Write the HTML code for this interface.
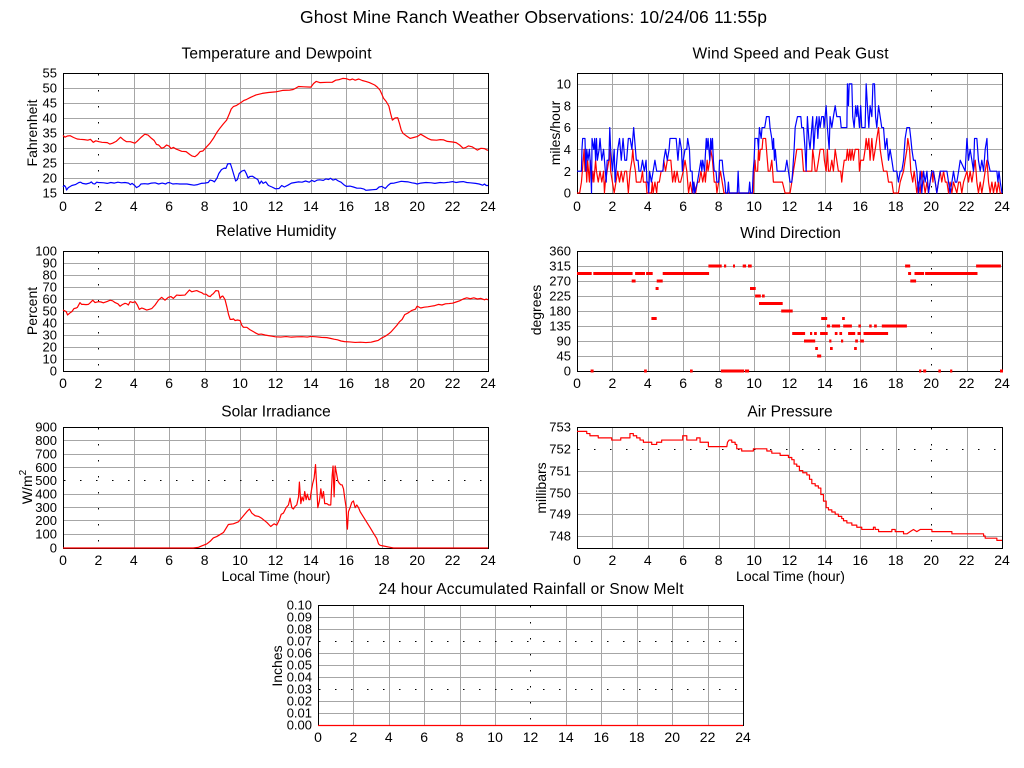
<!DOCTYPE html>
<html><head><meta charset="utf-8"><style>
html,body{margin:0;padding:0;background:#fff;}
svg{display:block;font-family:"Liberation Sans",Arial,sans-serif;}
.g{stroke:#a6a6a6;stroke-width:1;fill:none;shape-rendering:crispEdges;}
.d{stroke:#000;stroke-width:1;stroke-dasharray:1.5 14.5;fill:none;}
.f{stroke:#000;stroke-width:1;fill:none;shape-rendering:crispEdges;}
.r{stroke:#ff0000;fill:none;stroke-width:1.2;stroke-linejoin:round;}
.b{stroke:#0000ff;fill:none;stroke-width:1.2;stroke-linejoin:round;}
.yl{font-size:13px;text-anchor:end;}
.xl{font-size:14px;text-anchor:middle;}
.t{font-size:15.5px;text-anchor:middle;}
.al{font-size:14px;text-anchor:middle;}
</style></head><body>
<svg width="1024" height="768" viewBox="0 0 1024 768" xmlns="http://www.w3.org/2000/svg">
<rect width="1024" height="768" fill="#fff"/>
<text x="533.5" y="23" font-size="17.5" text-anchor="middle" textLength="467" lengthAdjust="spacing">Ghost Mine Ranch Weather Observations: 10/24/06 11:55p</text>

<!-- ===== Panel 1: Temperature ===== -->
<text class="t" x="276.5" y="58.5" textLength="190" lengthAdjust="spacing">Temperature and Dewpoint</text>
<path class="g" d="M134.5 73V193M169.5 73V193M205.5 73V193M240.5 73V193M276.5 73V193M311.5 73V193M346.5 73V193M382.5 73V193M417.5 73V193M453.5 73V193M63 88.5H488M63 103.5H488M63 118.5H488M63 133.5H488M63 148.5H488M63 163.5H488M63 178.5H488"/>
<path class="d" d="M98.5 74V193"/>
<rect class="f" x="63.5" y="73.5" width="425" height="120"/>
<g class="yl"><text x="57" y="77.5">55</text><text x="57" y="92.5">50</text><text x="57" y="107.5">45</text><text x="57" y="122.5">40</text><text x="57" y="137.5">35</text><text x="57" y="152.5">30</text><text x="57" y="167.5">25</text><text x="57" y="182.5">20</text><text x="57" y="197.5">15</text></g>
<g class="xl"><text x="63" y="211">0</text><text x="98.4" y="211">2</text><text x="133.8" y="211">4</text><text x="169.2" y="211">6</text><text x="204.7" y="211">8</text><text x="240.1" y="211">10</text><text x="275.5" y="211">12</text><text x="310.9" y="211">14</text><text x="346.3" y="211">16</text><text x="381.7" y="211">18</text><text x="417.2" y="211">20</text><text x="452.6" y="211">22</text><text x="488" y="211">24</text></g>
<text class="al" transform="translate(37,133) rotate(-90)">Fahrenheit</text>
<g transform="translate(63,238) scale(17.7083,-3)">
<polyline class="r" vector-effect="non-scaling-stroke" points="0,34.2 0.11,33.6 0.25,34 0.4,34.1 0.6,33.5 0.8,33 0.96,32.9 1.2,32.8 1.4,32.6 1.55,32.9 1.71,31.9 1.85,32.4 2.03,32.1 2.2,31.9 2.5,31.8 2.65,31.3 2.8,31.6 3.0,32.2 3.25,33.6 3.4,32.8 3.59,32.1 3.8,32.1 4.06,31.6 4.2,32.3 4.4,33.5 4.62,34.6 4.8,34.3 5.0,33.2 5.15,32.5 5.28,31.2 5.4,31 5.57,29.9 5.7,30.2 5.85,31 6.0,30.6 6.1,29.8 6.23,30.2 6.4,29.6 6.5,29.4 6.7,28.9 6.95,28.8 7.17,27.8 7.3,27.3 7.45,27.1 7.6,27.8 7.74,28.8 7.9,29 8.11,30.4 8.3,31.6 8.49,33.2 8.7,35.3 8.86,36.6 9.05,38 9.24,39.3 9.4,41.5 9.5,43 9.62,43.8 9.8,44.2 9.99,44.9 10.2,45.8 10.37,46.2 10.6,46.9 10.9,47.7 11.25,48.2 11.6,48.5 12.0,48.7 12.4,49.2 12.8,49.3 13.0,49.5 13.1,49.8 13.3,50.5 13.6,50.4 14.0,50.3 14.15,51.5 14.3,52.2 14.5,51.8 14.9,51.9 15.2,51.9 15.4,52.6 15.6,52.8 15.8,53.2 16.0,53.1 16.2,52.7 16.35,53 16.5,52.6 16.7,53 16.9,52.5 17.1,52.2 17.3,51.8 17.6,51 17.75,50.3 17.9,49.3 18.0,48 18.1,46.6 18.25,45.5 18.4,44 18.5,41.5 18.6,39.3 18.75,40 18.9,40.1 19.0,38.2 19.1,36 19.2,34.9 19.4,34 19.6,33.2 19.8,33.5 20.0,33.8 20.2,34.6 20.4,33.9 20.6,33.2 20.8,32.7 21.1,32.6 21.3,32.8 21.5,32.7 21.7,32.2 22.0,32 22.2,31.8 22.4,31 22.6,29.9 22.75,30.2 22.9,30.7 23.1,30.4 23.4,29.3 23.6,29.9 23.8,29.8 23.95,29.3 24,29.3"/>
<polyline class="b" vector-effect="non-scaling-stroke" points="0,17 0.08,17.5 0.15,17 0.2,16 0.3,16.8 0.5,17.5 0.7,17.8 0.9,18.5 1.0,18.6 1.1,18.2 1.3,18 1.5,18.3 1.6,18.7 1.7,18.1 1.8,18 1.9,18.6 2.0,18.5 2.3,18.4 2.5,18.2 2.7,18.5 2.9,18.3 3.1,18.6 3.3,18.4 3.5,18.5 3.7,18.3 3.8,17.8 3.9,18.2 4.05,17.5 4.15,16.8 4.3,17.3 4.4,18 4.6,18.1 4.8,18 5.0,18.3 5.2,18.4 5.4,18 5.6,18.3 5.8,18 5.9,18.4 6.0,18.5 6.2,18 6.4,18.1 6.6,18 7.0,18 7.2,17.8 7.4,17.6 7.6,17.8 7.8,18.2 8.0,18.3 8.2,18.5 8.3,19.3 8.45,19.1 8.55,18.7 8.7,20 8.8,21.5 8.95,22.8 9.1,23.3 9.2,23.2 9.3,24.7 9.45,24.8 9.55,23 9.65,21 9.75,19 9.85,19.5 9.95,21.5 10.1,22.3 10.25,22.6 10.35,21.5 10.45,20 10.55,20.5 10.7,20.6 10.85,20 11.0,19.5 11.1,18 11.2,19 11.3,18.2 11.45,18.7 11.6,17.5 11.8,17 12.0,16.4 12.2,16.5 12.35,17.5 12.5,17 12.7,17.6 12.9,18.3 13.1,18.5 13.3,18.7 13.5,18.6 13.7,19 13.9,18.6 14.05,19.2 14.2,18.8 14.35,19.3 14.5,19.4 14.7,19.2 14.85,19.7 15.0,19.5 15.1,19.9 15.25,19.3 15.4,19.6 15.55,19 15.7,18.6 15.85,17.8 16.0,17.2 16.2,17.3 16.4,17 16.6,16.6 16.8,16.6 17.0,16.3 17.1,15.9 17.3,16 17.5,16.1 17.7,16.2 17.85,17 18.0,17.2 18.2,16.5 18.35,17.5 18.5,18.2 18.7,18.3 18.9,18.6 19.1,18.9 19.3,18.8 19.5,18.7 19.7,18.4 19.9,18.2 20.0,18 20.2,18.3 20.5,18.5 20.8,18.4 21.0,18.2 21.3,18.5 21.5,18.4 21.8,18.6 22.0,18.8 22.2,18.5 22.4,18.7 22.6,18.8 22.8,18.5 23.0,18.4 23.3,18.2 23.5,18 23.7,17.6 23.8,18 23.9,17.5 24,17.5"/>
</g>

<!-- ===== Panel 2: Wind Speed ===== -->
<text class="t" x="790.5" y="58.5" textLength="196" lengthAdjust="spacing">Wind Speed and Peak Gust</text>
<path class="g" d="M612.5 73V193M648.5 73V193M683.5 73V193M719.5 73V193M754.5 73V193M789.5 73V193M825.5 73V193M860.5 73V193M896.5 73V193M967.5 73V193M577 84.5H1002M577 106.5H1002M577 128.5H1002M577 149.5H1002M577 171.5H1002"/>
<path class="d" d="M931.5 74V193"/>
<rect class="f" x="577.5" y="73.5" width="425" height="120"/>
<g class="yl"><text x="571" y="88.5">10</text><text x="571" y="110.5">8</text><text x="571" y="132">6</text><text x="571" y="154">4</text><text x="571" y="176">2</text><text x="571" y="197.5">0</text></g>
<g class="xl"><text x="577" y="211">0</text><text x="612.4" y="211">2</text><text x="647.8" y="211">4</text><text x="683.2" y="211">6</text><text x="718.7" y="211">8</text><text x="754.1" y="211">10</text><text x="789.5" y="211">12</text><text x="824.9" y="211">14</text><text x="860.3" y="211">16</text><text x="895.7" y="211">18</text><text x="931.2" y="211">20</text><text x="966.6" y="211">22</text><text x="1002" y="211">24</text></g>
<text class="al" transform="translate(560,133) rotate(-90)">miles/hour</text>
<g transform="translate(577,193) scale(17.7083,-10.909)">
<polyline class="r" vector-effect="non-scaling-stroke" points="0,0 0.15,0 0.25,1 0.3,2 0.4,4 0.45,2 0.5,3 0.55,1 0.6,3 0.65,2 0.7,1 0.75,3 0.8,2 0.85,1 0.9,2 0.95,1 1.0,2 1.05,3 1.1,2 1.2,1 1.3,2 1.4,1 1.5,2 1.55,0 1.6,1 1.7,2 1.8,3 1.85,4 1.9,2 2.0,1 2.1,0 2.2,1 2.3,2 2.4,1 2.5,2 2.6,1 2.7,2 2.8,2 2.9,0 3.0,2 3.1,3 3.15,4 3.2,3 3.3,2 3.35,1 3.6,1 3.7,2 3.75,1 3.9,1 3.95,0 4.2,0 4.25,1 4.3,0 4.4,1 4.5,0 4.55,1 4.65,1 4.75,2 4.85,2 4.9,3 5.0,2 5.1,3 5.3,3 5.35,2 5.4,1 5.5,2 5.55,1 5.65,2 5.75,1 5.85,1 6.0,2 6.1,3 6.2,2 6.3,0 6.4,1 6.5,0 6.6,1 6.7,0 6.8,1 6.9,1 7.0,2 7.1,1 7.2,2 7.25,1 7.3,2 7.35,3 7.4,2 7.5,3 7.55,4 7.65,3 7.7,2 7.75,1 7.85,1 7.9,0 8.0,1 8.1,2 8.2,1 8.3,0 9.95,0 10.0,2 10.05,3 10.1,2 10.2,2 10.25,4 10.3,3 10.35,4 10.45,4 10.5,5 10.65,5 10.7,4 10.75,3 10.8,2 10.9,2 11.0,3 11.05,2 11.09,1 11.6,1 11.75,0 12.03,0 12.13,1 12.22,2 12.32,3 12.41,4 12.7,4 12.79,2 12.98,2 13.26,2 13.31,4 13.39,3 13.45,2 13.54,2 13.64,3 13.73,4 13.92,4 13.97,3 14.07,2 14.14,4 14.2,2 14.29,2 14.39,3 14.48,2 14.58,4 14.67,3 14.76,2 14.89,2 14.95,1 15.01,2 15.09,3 15.2,3 15.27,4 15.33,3 15.41,4 15.46,3 15.54,4 15.61,3 15.71,4 15.9,4 15.95,2 16.02,3 16.18,3 16.27,4 16.33,5 16.4,4 16.48,5 16.55,3 16.65,5 16.74,3 16.84,4 16.93,5 17.03,6 17.12,4 17.21,3 17.31,2 17.5,2 17.59,1 17.78,1 17.87,0 18.15,0 18.25,1 18.44,2 18.53,3 18.63,4 18.68,5 18.78,4 18.85,2 18.96,1 19.04,2 19.12,1 19.19,0 19.28,1 19.38,0 19.47,2 19.57,1 19.66,0 19.76,1 19.85,0 19.94,1 20.04,2 20.1,1 20.13,2 20.23,1 20.32,0 20.41,1 20.51,2 20.6,1 20.7,2 20.8,1 20.89,1 20.98,0 21.07,1 21.17,0 21.26,1 21.45,0 21.55,1 21.64,1 21.73,0 21.83,1 22.02,2 22.11,1 22.2,2 22.3,1 22.39,2 22.49,3 22.58,1 22.67,0 22.77,1 22.86,0 22.96,1 23.05,2 23.15,3 23.24,1 23.33,0 23.43,1 23.52,0 23.62,1 23.71,0 23.8,1 23.9,0 24,0"/>
<polyline class="b" vector-effect="non-scaling-stroke" points="0,2 0.25,2 0.28,4 0.32,5 0.45,5 0.5,2 0.55,4 0.62,3 0.7,4 0.78,2 0.82,0 0.85,5 0.95,4 1.0,5 1.05,3 1.1,5 1.15,3 1.25,4 1.3,5 1.4,3 1.5,4 1.6,2 1.65,1 1.7,3 1.8,3 1.85,6 1.9,4 2.0,2 2.1,4 2.15,1 2.25,3 2.3,4 2.4,5 2.5,3 2.6,5 2.7,3 2.8,3 2.9,5 3.0,5 3.1,4 3.15,5 3.2,6 3.3,4 3.35,3 3.45,3 3.5,2 3.6,2 3.7,3 3.8,2 3.9,3 3.95,1 4.0,1 4.05,0 4.1,2 4.2,1 4.3,2 4.4,3 4.5,2 4.85,2 4.9,3 5.0,4 5.1,3 5.2,4 5.25,5 5.6,5 5.65,4 5.7,3 5.75,4 5.8,5 5.9,4 5.95,2 6.0,3 6.1,4 6.2,4 6.25,5 6.35,4 6.4,2 6.5,2 6.55,0 6.6,1 6.65,0 6.8,1 6.9,2 7.0,3 7.05,2 7.1,3 7.2,2 7.3,5 7.35,4 7.4,5 7.5,3 7.55,5 7.6,4 7.65,5 7.7,3 7.75,2 7.85,2 7.9,1 8.0,1 8.05,3 8.2,3 8.25,2 8.35,1 8.4,0 8.5,0 8.55,1 8.6,0 9.05,0 9.1,2 9.15,0 9.7,0 9.75,1 9.8,0 9.9,0 9.95,2 10.0,3 10.05,5 10.2,5 10.25,4 10.3,6 10.4,5 10.45,6 10.6,6 10.7,7 10.85,7 10.9,6 11.0,5 11.05,4 11.1,5 11.15,3 11.2,4 11.25,3 11.3,2 11.75,2 11.85,3 11.94,2 12.03,1 12.13,1 12.18,2 12.26,4 12.32,6 12.45,7 12.64,7 12.69,6 12.79,6 12.88,4 12.94,2 13.01,7 13.09,5 13.16,4 13.26,6 13.31,7 13.37,4 13.45,6 13.54,7 13.6,5 13.67,7 13.73,6 13.82,7 13.92,7 13.95,6 14.07,8 14.14,6 14.24,4 14.29,7 14.39,6 14.48,7 14.58,8 14.67,7 14.86,7 14.92,6 15.24,6 15.27,10 15.33,8 15.37,10 15.52,10 15.57,7 15.65,6 15.74,8 15.8,7 15.85,8 15.95,6 16.02,8 16.08,6 16.27,6 16.33,10 16.4,8 16.48,6 16.55,8 16.65,7 16.71,10 16.8,10 16.86,7 16.93,6 17.03,8 17.12,7 17.21,6 17.31,6 17.4,4 17.5,5 17.59,3 17.68,4 17.78,3 17.87,2 18.06,2 18.15,1 18.25,2 18.34,2 18.44,3 18.53,5 18.63,6 18.78,6 18.85,5 18.91,4 19.0,3 19.1,3 19.19,2 19.28,0 19.38,2 19.47,0 19.57,2 19.66,1 19.76,2 19.85,0 19.94,1 20.04,2 20.13,2 20.23,1 20.32,0 20.41,1 20.51,2 20.89,2 20.98,1 21.07,0 21.17,1 21.26,2 21.36,1 21.45,1 21.55,2 21.64,3 21.92,2 22.02,5 22.11,3 22.2,4 22.3,3 22.39,2 22.45,5 22.58,5 22.67,3 22.77,2 22.86,3 22.96,2 23.05,4 23.15,5 23.2,3 23.33,2 23.71,2 23.77,1 23.83,2 23.9,1 24,0"/>
</g>

<!-- ===== Panel 3: Relative Humidity ===== -->
<text class="t" x="276" y="236">Relative Humidity</text>
<path class="g" d="M134.5 251V371M169.5 251V371M205.5 251V371M240.5 251V371M276.5 251V371M311.5 251V371M346.5 251V371M382.5 251V371M417.5 251V371M453.5 251V371M63 263.5H488M63 275.5H488M63 287.5H488M63 299.5H488M63 311.5H488M63 323.5H488M63 335.5H488M63 347.5H488M63 359.5H488"/>
<path class="d" d="M98.5 252V371"/>
<rect class="f" x="63.5" y="251.5" width="425" height="120"/>
<g class="yl"><text x="57" y="255.5">100</text><text x="57" y="267.5">90</text><text x="57" y="279.5">80</text><text x="57" y="291.5">70</text><text x="57" y="303.5">60</text><text x="57" y="315.5">50</text><text x="57" y="327.5">40</text><text x="57" y="339.5">30</text><text x="57" y="351.5">20</text><text x="57" y="363.5">10</text><text x="57" y="375.5">0</text></g>
<g class="xl"><text x="63" y="388">0</text><text x="98.4" y="388">2</text><text x="133.8" y="388">4</text><text x="169.2" y="388">6</text><text x="204.7" y="388">8</text><text x="240.1" y="388">10</text><text x="275.5" y="388">12</text><text x="310.9" y="388">14</text><text x="346.3" y="388">16</text><text x="381.7" y="388">18</text><text x="417.2" y="388">20</text><text x="452.6" y="388">22</text><text x="488" y="388">24</text></g>
<text class="al" transform="translate(37,311) rotate(-90)">Percent</text>
<g transform="translate(63,371) scale(17.7083,-1.2)">
<polyline class="r" vector-effect="non-scaling-stroke" points="0,50.8 0.11,50 0.18,49.5 0.26,46.7 0.4,48.5 0.5,49.5 0.62,52 0.75,52.5 0.81,53 0.96,57 1.05,55.5 1.15,55.5 1.3,55.3 1.43,55.5 1.55,57 1.68,59 1.81,57 2.0,57.8 2.15,57.5 2.28,56.8 2.5,58 2.66,59 2.8,58.5 2.94,57 3.1,56 3.22,54 3.35,55.3 3.5,56.4 3.6,56 3.69,55 3.79,57.8 3.95,57 4.07,57.8 4.2,55 4.31,51.4 4.45,52.5 4.54,52 4.73,50.8 4.9,51.5 5.01,52 5.2,55 5.39,59 5.57,61.4 5.76,59 5.95,61.4 6.1,62 6.23,60.5 6.42,63.3 6.6,63 6.89,63.3 7.14,67.5 7.27,66 7.4,66.5 7.55,67 7.7,66 7.83,65.3 7.95,64 8.08,64 8.2,62.5 8.31,62 8.4,63.5 8.49,64.5 8.63,67 8.78,66.7 8.87,60.5 8.95,62 9.02,62.5 9.15,59.5 9.25,53.6 9.35,47 9.44,43 9.55,43 9.62,43.5 9.72,42 9.85,42.5 10.0,42 10.1,38 10.19,36.4 10.38,36.4 10.55,34.5 10.75,32.8 10.9,31.5 11.04,30.5 11.2,30.8 11.4,30 11.6,29.5 11.8,29 12.0,28.5 12.3,28.3 12.6,28.7 12.9,28.2 13.2,28.5 13.5,28.6 13.8,28.3 14.0,28.8 14.3,28.5 14.6,28 14.9,27.8 15.1,27.2 15.3,26.5 15.5,26 15.7,25 15.9,24.5 16.2,24.2 16.5,23.8 16.8,24 17.1,23.7 17.4,24 17.6,24.8 17.8,25.5 18.0,27.5 18.2,29 18.4,31 18.55,33 18.7,35.5 18.85,38 19.0,41 19.15,43 19.3,47 19.5,48.5 19.7,50.5 19.9,51.5 20.0,54 20.2,52.5 20.4,53.2 20.6,53.5 20.8,54 21.0,54.5 21.2,55.5 21.4,55 21.6,56 21.8,56.2 22.0,56.5 22.2,57.5 22.4,58.5 22.6,60 22.8,61 23.0,60.2 23.2,61 23.4,60 23.6,60.5 23.8,59.3 23.9,60 24,59.3"/>
</g>

<!-- ===== Panel 4: Wind Direction ===== -->
<text class="t" x="790.5" y="238">Wind Direction</text>
<path class="g" d="M612.5 251V371M648.5 251V371M683.5 251V371M719.5 251V371M754.5 251V371M789.5 251V371M825.5 251V371M860.5 251V371M896.5 251V371M967.5 251V371M577 266.5H1002M577 281.5H1002M577 296.5H1002M577 311.5H1002M577 326.5H1002M577 341.5H1002M577 356.5H1002"/>
<path class="d" d="M931.5 252V371"/>
<rect class="f" x="577.5" y="251.5" width="425" height="120"/>
<g class="yl"><text x="571" y="255.5">360</text><text x="571" y="270.5">315</text><text x="571" y="285.5">270</text><text x="571" y="300.5">225</text><text x="571" y="315.5">180</text><text x="571" y="330.5">135</text><text x="571" y="345.5">90</text><text x="571" y="360.5">45</text><text x="571" y="375.5">0</text></g>
<g class="xl"><text x="577" y="388">0</text><text x="612.4" y="388">2</text><text x="647.8" y="388">4</text><text x="683.2" y="388">6</text><text x="718.7" y="388">8</text><text x="754.1" y="388">10</text><text x="789.5" y="388">12</text><text x="824.9" y="388">14</text><text x="860.3" y="388">16</text><text x="895.7" y="388">18</text><text x="931.2" y="388">20</text><text x="966.6" y="388">22</text><text x="1002" y="388">24</text></g>
<text class="al" transform="translate(541,310) rotate(-90)">degrees</text>
<g fill="#ff0000">
<!-- 292.5 -->
<rect x="577" y="272" width="14.7" height="3"/><rect x="593.3" y="272" width="39.3" height="3"/><rect x="635.1" y="272" width="9.9" height="3"/><rect x="646.1" y="272" width="6.6" height="3"/><rect x="662.7" y="272" width="46.4" height="3"/><rect x="908.1" y="272" width="3" height="3"/><rect x="914.5" y="272" width="9.6" height="3"/><rect x="925.1" y="272" width="52.4" height="3"/>
<!-- 270 -->
<rect x="631.7" y="279.5" width="3.9" height="3"/><rect x="656.7" y="279.5" width="6" height="3"/><rect x="910.3" y="279.5" width="5.8" height="3"/>
<!-- 247.5 -->
<rect x="655.6" y="287" width="3" height="3"/><rect x="750" y="287" width="5.7" height="3"/>
<!-- 315 -->
<rect x="708.4" y="264.5" width="13.3" height="3"/><rect x="724" y="264.5" width="2.2" height="3"/><rect x="733" y="264.5" width="2" height="3"/><rect x="742.7" y="264.5" width="3.4" height="3"/><rect x="748" y="264.5" width="3.7" height="3"/><rect x="905.1" y="264.5" width="5.1" height="3"/><rect x="976.1" y="264.5" width="24.8" height="3"/>
<!-- 225 -->
<rect x="755.1" y="294.5" width="5.7" height="3"/><rect x="762" y="294.5" width="2.7" height="3"/>
<!-- 202.5 -->
<rect x="759" y="302" width="23.7" height="3"/>
<!-- 180 -->
<rect x="781.2" y="309.5" width="11.5" height="3"/>
<!-- 157.5 -->
<rect x="651.4" y="317" width="5.3" height="3"/><rect x="821.2" y="317" width="6" height="3"/><rect x="842.1" y="317" width="2.7" height="3"/>
<!-- 135 -->
<rect x="826.9" y="324.5" width="3.2" height="3"/><rect x="831.8" y="324.5" width="8.3" height="3"/><rect x="843.2" y="324.5" width="8.7" height="3"/><rect x="858.4" y="324.5" width="2.5" height="3"/><rect x="869.2" y="324.5" width="2.5" height="3"/><rect x="874.1" y="324.5" width="2.7" height="3"/><rect x="881.8" y="324.5" width="25.1" height="3"/>
<!-- 112.5 -->
<rect x="792.2" y="332" width="12.9" height="3"/><rect x="810" y="332" width="2.2" height="3"/><rect x="814.1" y="332" width="2.7" height="3"/><rect x="820.1" y="332" width="7.6" height="3"/><rect x="834.8" y="332" width="2.7" height="3"/><rect x="839.4" y="332" width="2.7" height="3"/><rect x="848.1" y="332" width="7.1" height="3"/><rect x="857.5" y="332" width="3.4" height="3"/><rect x="863.5" y="332" width="24.6" height="3"/>
<!-- 90 -->
<rect x="804" y="339.5" width="11.2" height="3"/><rect x="829.2" y="339.5" width="2.2" height="3"/><rect x="841" y="339.5" width="2.2" height="3"/><rect x="855.2" y="339.5" width="2.7" height="3"/><rect x="860.2" y="339.5" width="3.7" height="3"/>
<!-- 67.5 -->
<rect x="815.2" y="347" width="2.7" height="3"/><rect x="830" y="347" width="2.7" height="3"/><rect x="854.1" y="347" width="2.7" height="3"/>
<!-- 45 -->
<rect x="817.1" y="354.5" width="4.1" height="3"/>
<!-- 0 -->
<rect x="590.6" y="369.5" width="3" height="3"/><rect x="644.1" y="369.5" width="2.7" height="3"/><rect x="690" y="369.5" width="2.7" height="3"/><rect x="720.8" y="369.5" width="23.4" height="3"/><rect x="745" y="369.5" width="4.1" height="3"/><rect x="919.1" y="369.5" width="2.2" height="3"/><rect x="923.2" y="369.5" width="3" height="3"/><rect x="938.4" y="369.5" width="2.5" height="3"/><rect x="950.1" y="369.5" width="2.2" height="3"/><rect x="1000" y="369.5" width="3" height="3"/>
</g>

<!-- ===== Panel 5: Solar ===== -->
<text class="t" x="276" y="416.5">Solar Irradiance</text>
<path class="g" d="M134.5 427V548M169.5 427V548M205.5 427V548M240.5 427V548M276.5 427V548M311.5 427V548M346.5 427V548M382.5 427V548M417.5 427V548M453.5 427V548M63 440.5H488M63 454.5H488M63 467.5H488M63 494.5H488M63 507.5H488M63 520.5H488M63 534.5H488"/>
<path class="d" d="M98.5 428V548M64 480.5H488"/>
<rect class="f" x="63.5" y="427.5" width="425" height="121"/>
<g class="yl"><text x="57" y="431.5">900</text><text x="57" y="445">800</text><text x="57" y="458.5">700</text><text x="57" y="472">600</text><text x="57" y="485">500</text><text x="57" y="498.5">400</text><text x="57" y="512">300</text><text x="57" y="525">200</text><text x="57" y="538.5">100</text><text x="57" y="552.5">0</text></g>
<g class="xl"><text x="63" y="565">0</text><text x="98.4" y="565">2</text><text x="133.8" y="565">4</text><text x="169.2" y="565">6</text><text x="204.7" y="565">8</text><text x="240.1" y="565">10</text><text x="275.5" y="565">12</text><text x="310.9" y="565">14</text><text x="346.3" y="565">16</text><text x="381.7" y="565">18</text><text x="417.2" y="565">20</text><text x="452.6" y="565">22</text><text x="488" y="565">24</text></g>
<text class="al" x="276" y="581" font-size="15">Local Time (hour)</text>
<text class="al" transform="translate(32,487) rotate(-90)">W/m<tspan dy="-6" font-size="10">2</tspan></text>
<g transform="translate(63,548) scale(17.7083,-0.134444)">
<polyline class="r" vector-effect="non-scaling-stroke" points="0,0 6.61,0 7.36,0 7.65,5 7.83,15 8.12,30 8.31,50 8.49,75 8.68,85 8.87,100 9.06,115 9.34,175 9.62,180 9.91,195 10.19,240 10.38,270 10.53,290 10.66,260 10.85,240 11.04,235 11.23,220 11.51,190 11.73,160 11.92,180 12.07,170 12.22,210 12.32,250 12.45,260 12.6,300 12.73,320 12.82,370 12.92,300 13.01,290 13.11,310 13.2,320 13.3,380 13.35,490 13.43,330 13.5,380 13.58,350 13.65,420 13.73,360 13.8,400 13.88,360 13.95,360 14.03,430 14.1,480 14.18,520 14.26,620 14.33,450 14.39,300 14.48,350 14.56,440 14.63,370 14.71,420 14.78,330 14.9,330 15.01,320 15.12,320 15.2,540 15.25,610 15.31,380 15.37,610 15.44,560 15.52,500 15.61,480 15.69,470 15.76,470 15.84,440 15.91,370 15.99,300 16.03,180 16.06,140 16.12,270 16.21,300 16.31,340 16.4,350 16.5,300 16.59,320 16.69,300 16.78,270 16.97,230 17.16,190 17.35,150 17.53,110 17.72,70 17.82,30 17.91,20 18.1,15 18.47,5 18.66,0 24,0"/>
</g>

<!-- ===== Panel 6: Air Pressure ===== -->
<text class="t" x="790" y="416.5">Air Pressure</text>
<path class="g" d="M612.5 427V548M648.5 427V548M683.5 427V548M719.5 427V548M754.5 427V548M789.5 427V548M825.5 427V548M860.5 427V548M896.5 427V548M967.5 427V548M577 471.5H1002M577 493.5H1002M577 514.5H1002M577 536.5H1002"/>
<path class="d" d="M931.5 428V548M578 449.5H1002"/>
<rect class="f" x="577.5" y="427.5" width="425" height="121"/>
<g class="yl"><text x="571" y="431.5">753</text><text x="571" y="453.5">752</text><text x="571" y="475.5">751</text><text x="571" y="497.5">750</text><text x="571" y="518.5">749</text><text x="571" y="540.5">748</text></g>
<g class="xl"><text x="577" y="565">0</text><text x="612.4" y="565">2</text><text x="647.8" y="565">4</text><text x="683.2" y="565">6</text><text x="718.7" y="565">8</text><text x="754.1" y="565">10</text><text x="789.5" y="565">12</text><text x="824.9" y="565">14</text><text x="860.3" y="565">16</text><text x="895.7" y="565">18</text><text x="931.2" y="565">20</text><text x="966.6" y="565">22</text><text x="1002" y="565">24</text></g>
<text class="al" x="790.5" y="581" font-size="15">Local Time (hour)</text>
<text class="al" transform="translate(546,488) rotate(-90)">millibars</text>
<g transform="translate(577,427) scale(17.7083,-21.8) translate(0,-753)">
<polyline class="r" vector-effect="non-scaling-stroke" points="0,752.8 0.55,752.8 0.55,752.7 0.73,752.7 0.73,752.6 1.2,752.6 1.2,752.5 1.96,752.5 1.96,752.4 2.47,752.4 2.47,752.5 2.99,752.5 2.99,752.7 3.18,752.7 3.18,752.6 3.37,752.6 3.37,752.5 3.56,752.5 3.56,752.4 3.75,752.4 3.75,752.3 4.22,752.3 4.22,752.2 4.5,752.2 4.5,752.3 4.78,752.3 4.78,752.4 5.97,752.4 5.97,752.6 6.2,752.6 6.2,752.4 6.76,752.4 6.76,752.5 6.95,752.5 6.95,752.3 7.42,752.3 7.42,752.1 8.46,752.1 8.5,752.3 8.59,752.4 8.74,752.4 8.74,752.3 8.93,752.3 8.93,752.2 9.02,752.2 9.02,752.0 9.3,752.0 9.3,751.9 9.96,751.9 9.96,752.0 10.72,752.0 10.72,751.9 11.0,751.9 11.0,751.8 11.47,751.8 11.47,751.7 11.94,751.7 11.94,751.6 12.13,751.6 12.13,751.5 12.26,751.5 12.26,751.3 12.41,751.3 12.41,751.2 12.56,751.2 12.56,751.0 12.75,751.0 12.75,750.9 12.98,750.9 12.98,750.8 13.13,750.8 13.13,750.6 13.26,750.6 13.26,750.4 13.45,750.4 13.45,750.3 13.63,750.3 13.63,750.2 13.77,750.2 13.77,749.9 13.92,749.9 13.92,749.6 14.07,749.6 14.07,749.3 14.2,749.3 14.2,749.2 14.39,749.2 14.39,749.1 14.58,749.1 14.58,749.0 14.76,749.0 14.76,748.9 14.95,748.9 14.95,748.8 15.05,748.8 15.05,748.7 15.24,748.7 15.24,748.6 15.52,748.6 15.52,748.5 15.8,748.5 15.8,748.4 16.08,748.4 16.08,748.3 16.74,748.3 16.74,748.4 16.84,748.4 16.84,748.3 17.03,748.3 17.03,748.2 17.78,748.2 17.78,748.3 17.97,748.3 17.97,748.2 18.44,748.2 18.44,748.1 18.63,748.1 18.81,748.2 19.0,748.3 19.19,748.2 19.38,748.3 20.04,748.3 20.04,748.2 21.17,748.2 21.17,748.1 22.96,748.1 22.96,748.0 23.05,748.0 23.05,747.9 23.71,747.9 23.71,747.8 24,747.8"/>
</g>

<!-- ===== Panel 7: Rainfall ===== -->
<text class="t" x="531" y="594" textLength="305" lengthAdjust="spacing">24 hour Accumulated Rainfall or Snow Melt</text>
<path class="g" d="M353.5 605V725M389.5 605V725M424.5 605V725M460.5 605V725M495.5 605V725M566.5 605V725M601.5 605V725M637.5 605V725M672.5 605V725M708.5 605V725M318 617.5H743M318 629.5H743M318 653.5H743M318 665.5H743M318 677.5H743M318 701.5H743M318 713.5H743"/>
<path class="d" d="M530.5 606V725M319 641.5H743M319 689.5H743"/>
<rect class="f" x="318.5" y="605.5" width="425" height="120"/>
<g class="yl"><text x="312" y="609.5">0.10</text><text x="312" y="621.5">0.09</text><text x="312" y="633.5">0.08</text><text x="312" y="645.5">0.07</text><text x="312" y="657.5">0.06</text><text x="312" y="669.5">0.05</text><text x="312" y="681.5">0.04</text><text x="312" y="693.5">0.03</text><text x="312" y="705.5">0.02</text><text x="312" y="717.5">0.01</text><text x="312" y="729.5">0.00</text></g>
<g class="xl"><text x="318" y="742">0</text><text x="353.4" y="742">2</text><text x="388.8" y="742">4</text><text x="424.2" y="742">6</text><text x="459.7" y="742">8</text><text x="495.1" y="742">10</text><text x="530.5" y="742">12</text><text x="565.9" y="742">14</text><text x="601.3" y="742">16</text><text x="636.7" y="742">18</text><text x="672.2" y="742">20</text><text x="707.6" y="742">22</text><text x="743" y="742">24</text></g>
<text class="al" transform="translate(282,666) rotate(-90)">Inches</text>
<path d="M318 725.5H743" stroke="#ff0000" stroke-width="1.3" fill="none"/>
</svg>
</body></html>
